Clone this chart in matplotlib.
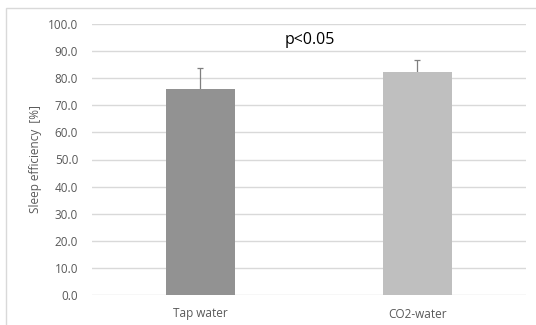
import matplotlib.pyplot as plt
from matplotlib.patches import Rectangle

# data
groups = ["Tap water", "CO2-water"]
means = [76.0, 82.3]
errs = [7.9, 4.4]
bar_colors = ["#929292", "#bfbfbf"]
yticks = [0, 10, 20, 30, 40, 50, 60, 70, 80, 90, 100]

plt.rcParams['font.family'] = ['Open Sans', 'DejaVu Sans']

fig = plt.figure(figsize=(5.36, 3.25), dpi=100)
# outer chart border (only top/left visible in the crop)
fig.patches.append(Rectangle((5.5 / 536, -0.1), 1.2, 1 - 7.5 / 325 + 0.1,
                             transform=fig.transFigure, fill=False,
                             edgecolor="#d9d9d9", linewidth=1.0))

ax = fig.add_axes([92 / 536, 1 - 295 / 325, 434 / 536, 271 / 325])
x = list(range(len(groups)))
# symmetric error bars drawn behind the bars, so only the upper half shows
ax.errorbar(x, means, yerr=errs, fmt="none", ecolor="#7f7f7f",
            elinewidth=0.9, capsize=2.5, capthick=0.9, zorder=2)
ax.bar(x, means, width=0.32, color=bar_colors, zorder=3)

ax.set_xlim(-0.5, 1.5)
ax.set_ylim(0, 100)
ax.set_yticks(yticks)
ax.set_yticklabels([f"{v:.1f}" for v in yticks])
ax.set_xticks(x)
ax.set_xticklabels(groups)
ax.grid(axis="y", color="#d9d9d9", linewidth=1.0, zorder=0)
for s in ax.spines.values():
    s.set_visible(False)
ax.tick_params(axis="both", length=0, labelsize=8.5, colors="#595959")
ax.tick_params(axis="y", pad=10)
ax.tick_params(axis="x", pad=9)
ax.set_ylabel("Sleep efficiency  [%]", fontsize=8.5, color="#595959", labelpad=4)

fig.text(310 / 536, 1 - 40 / 325, "p<0.05", ha="center", va="center",
         fontsize=11.5, color="black")

fig.savefig("out.png", dpi=100)
